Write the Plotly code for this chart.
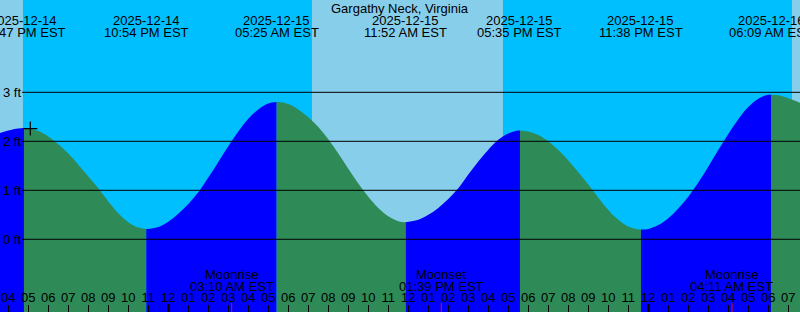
import pandas as pd
import plotly.graph_objects as go

# ---------------- data ----------------
title = "Gargathy Neck, Virginia"

# half-hourly water level readings (ft), 2025-12-14 16:00 .. 2025-12-16 07:30
reading_start = "2025-12-14 16:00"
levels = [2.22, 2.26, 2.26, 2.21, 2.10, 1.94, 1.75, 1.52,
          1.28, 1.04, 0.77, 0.53, 0.35, 0.24, 0.21, 0.25,
          0.36, 0.52, 0.72, 0.96, 1.26, 1.58, 1.90, 2.20,
          2.46, 2.65, 2.77, 2.80, 2.76, 2.65, 2.49, 2.29,
          2.04, 1.75, 1.44, 1.14, 0.87, 0.64, 0.47, 0.37,
          0.36, 0.40, 0.50, 0.64, 0.82, 1.04, 1.32, 1.59,
          1.83, 2.03, 2.16, 2.22, 2.20, 2.13, 2.00, 1.82,
          1.61, 1.37, 1.12, 0.85, 0.60, 0.40, 0.26, 0.20,
          0.21, 0.29, 0.43, 0.63, 0.87, 1.16, 1.48, 1.82,
          2.15, 2.45, 2.70, 2.87, 2.95, 2.94, 2.88, 2.80]
edge_times = ["2025-12-14 15:35:06", "2025-12-16 07:35:06"]
edge_levels = [2.17, 2.78]

# tide extremes
extreme_times = ["2025-12-14 16:47", "2025-12-14 22:54", "2025-12-15 05:25",
                 "2025-12-15 11:52", "2025-12-15 17:35", "2025-12-15 23:38",
                 "2025-12-16 06:09"]
extreme_levels = [2.27, 0.21, 2.80, 0.35, 2.22, 0.20, 2.95]
extreme_dates = ["2025-12-14", "2025-12-14", "2025-12-15", "2025-12-15",
                 "2025-12-15", "2025-12-15", "2025-12-16"]
extreme_clock = ["04:47 PM EST", "10:54 PM EST", "05:25 AM EST", "11:52 AM EST",
                 "05:35 PM EST", "11:38 PM EST", "06:09 AM EST"]

# daylight intervals
day_starts = ["2025-12-14 15:35:06", "2025-12-15 07:11", "2025-12-16 07:11"]
day_ends = ["2025-12-14 16:44", "2025-12-15 16:44", "2025-12-16 07:35:06"]

# moon events
moon_times = ["2025-12-15 03:10", "2025-12-15 13:39", "2025-12-16 04:11"]
moon_names = ["Moonrise", "Moonset", "Moonrise"]
moon_clock = ["03:10 AM EST", "01:39 PM EST", "04:11 AM EST"]

midnights = ["2025-12-15 00:00", "2025-12-16 00:00"]

now_time = "2025-12-14 17:06"
now_level = 2.26

level_ticks = [0, 1, 2, 3]
level_labels = ["0 ft", "1 ft", "2 ft", "3 ft"]

# ---------------- build ----------------
H = 312.0
def py(px):
    return 1 - px / H

FONT = "Liberation Sans, Arial, sans-serif"
NIGHT = "#00BFFF"
DAY = "#87CEEB"
FALL = "#2E8B57"
RISE = "#0000FF"

reading_times = pd.date_range(reading_start, periods=len(levels), freq="30min")
pts = [(t, v, False) for t, v in zip(reading_times, levels)]
pts += [(pd.Timestamp(t), v, False) for t, v in zip(edge_times, edge_levels)]
pts += [(pd.Timestamp(t), v, True) for t, v in zip(extreme_times, extreme_levels)]
pts.sort(key=lambda p: p[0])

# split into rising / falling segments at extremes
segments = []
cur = []
for p in pts:
    cur.append(p)
    if p[2]:
        segments.append(cur)
        cur = [p]
segments.append(cur)

BASE = -3
fig = go.Figure()
for seg in segments:
    xs = [p[0] for p in seg]
    ys = [p[1] for p in seg]
    color = RISE if ys[-1] > ys[0] else FALL
    fig.add_trace(go.Scatter(x=[xs[0], xs[-1]], y=[BASE, BASE], mode="lines",
                             line=dict(width=0), hoverinfo="skip", showlegend=False))
    fig.add_trace(go.Scatter(x=xs, y=ys, mode="lines", fill="tonexty",
                             fillcolor=color,
                             line=dict(width=0, shape="spline", color=color),
                             hoverinfo="skip", showlegend=False))

fig.add_trace(go.Scatter(x=[now_time], y=[now_level], mode="markers",
                         marker=dict(symbol="cross-thin", size=10,
                                     line=dict(width=1.2, color="black")),
                         showlegend=False, hoverinfo="skip"))

shapes = []
for a, b in zip(day_starts, day_ends):
    shapes.append(dict(type="rect", xref="x", yref="paper", x0=a, x1=b, y0=0, y1=1,
                       fillcolor=DAY, line=dict(width=0), layer="below"))
for v in level_ticks:
    shapes.append(dict(type="line", xref="paper", yref="y", x0=22 / 800, x1=1, y0=v, y1=v,
                       line=dict(color="black", width=1), layer="above"))
for m in midnights:
    shapes.append(dict(type="line", xref="x", yref="paper", x0=m, x1=m, y0=0, y1=8 / H,
                       line=dict(color="black", width=2.5), layer="above"))
for m in moon_times:
    shapes.append(dict(type="line", xref="x", yref="paper", x0=m, x1=m, y0=0, y1=9 / H,
                       line=dict(color="red", width=1), layer="above"))

ann = [dict(text=title, x=0.5, xref="paper", y=py(8.5), yref="paper",
            showarrow=False, xanchor="center", yanchor="middle")]
for t, d, c in zip(extreme_times, extreme_dates, extreme_clock):
    ann.append(dict(text=d, x=t, xref="x", y=py(20), yref="paper", showarrow=False,
                    xanchor="center", yanchor="middle"))
    ann.append(dict(text=c, x=t, xref="x", y=py(32.5), yref="paper", showarrow=False,
                    xanchor="center", yanchor="middle"))
for t, n, c in zip(moon_times, moon_names, moon_clock):
    ann.append(dict(text=n, x=t, xref="x", y=py(274.5), yref="paper", showarrow=False,
                    xanchor="center", yanchor="middle"))
    ann.append(dict(text=c, x=t, xref="x", y=py(286.3), yref="paper", showarrow=False,
                    xanchor="center", yanchor="middle"))

fig.update_layout(
    width=800, height=312, margin=dict(l=0, r=0, t=0, b=0),
    paper_bgcolor=NIGHT, plot_bgcolor=NIGHT,
    font=dict(family=FONT, size=13, color="black"),
    shapes=shapes, annotations=ann, showlegend=False,
    xaxis=dict(type="date", range=[edge_times[0], edge_times[1]],
               tick0=reading_start, dtick=3600000, tickformat="%I",
               ticks="inside", ticklen=7, tickwidth=1, tickcolor="black",
               ticklabelposition="inside", ticklabeloverflow="allow",
               showgrid=False, zeroline=False,
               showline=False, tickfont=dict(size=13, color="black")),
    yaxis=dict(range=[-1.484, 4.884], tickvals=level_ticks, ticktext=level_labels,
               ticks="", ticklabelposition="inside", ticklabeloverflow="allow",
               showgrid=False, zeroline=False,
               showline=False, tickfont=dict(size=13, color="black")),
)

fig.write_html("out.html")
